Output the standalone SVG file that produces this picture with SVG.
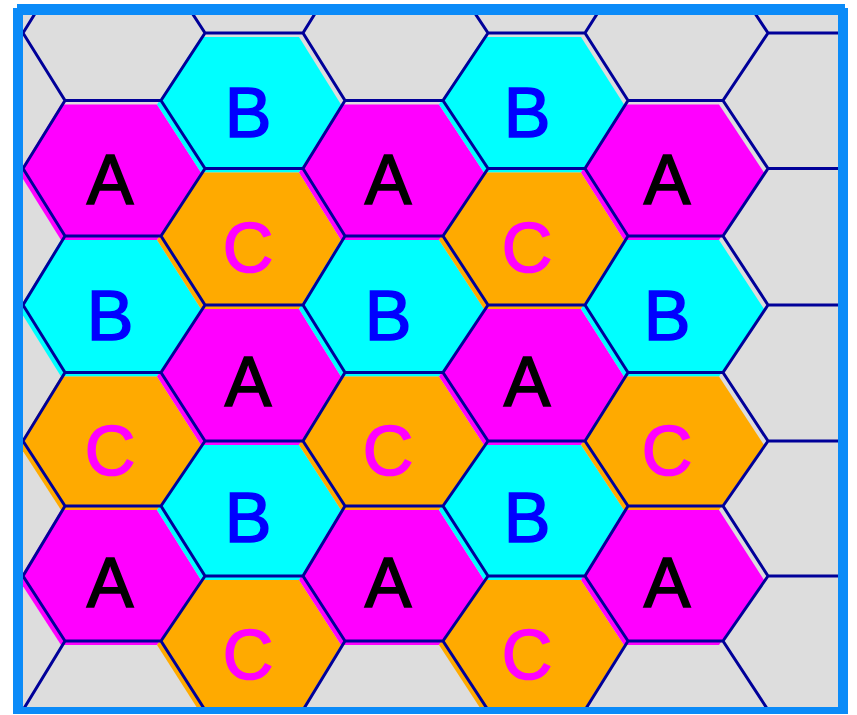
<svg xmlns="http://www.w3.org/2000/svg" width="857" height="715" viewBox="0 0 857 715">
<style>
.a{fill:#ff00ff}
.b{fill:#00ffff}
.c{fill:#ffaa00}
.lbl{font-family:"Liberation Sans",Arial,sans-serif;font-size:70px;text-anchor:middle;stroke-width:1.6px}
.ta{fill:#000000;stroke:#000000}
.tb{fill:#0000ff;stroke:#0000ff}
.tc{fill:#ff00ff;stroke:#ff00ff}
.grid{fill:none;stroke:#000099;stroke-width:3;stroke-linejoin:miter}
</style>
<defs>
<clipPath id="inner"><rect x="23" y="15" width="815" height="692"/></clipPath>
</defs>
<rect x="0" y="0" width="857" height="715" fill="#ffffff"/>
<rect x="23" y="15" width="815" height="692" fill="#dddddd"/>
<g clip-path="url(#inner)">
<g id="fills" transform="translate(-4,4)">
<polygon id="c0r1" class="a" points="23,168.5 65,100.5 161,100.5 205,168.5 161,236 65,236"/>
<polygon id="c0r2" class="b" points="23,305 65,236 161,236 205,305 161,372.5 65,372.5"/>
<polygon id="c0r3" class="c" points="23,441 65,372.5 161,372.5 205,441 161,506 65,506"/>
<polygon id="c0r4" class="a" points="23,576 65,506 161,506 205,576 161,641 65,641"/>
<polygon id="c1r1" class="b" points="161,100.5 205,33 303,33 345,100.5 303,168.5 205,168.5"/>
<polygon id="c1r2" class="c" points="161,236 205,168.5 303,168.5 345,236 303,305 205,305"/>
<polygon id="c1r3" class="a" points="161,372.5 205,305 303,305 345,372.5 303,441 205,441"/>
<polygon id="c1r4" class="b" points="161,506 205,441 303,441 345,506 303,576 205,576"/>
<polygon id="c1r5" class="c" points="161,641 205,576 303,576 345,641 303,710 205,710"/>
<polygon id="c2r1" class="a" points="303,168.5 345,100.5 443,100.5 488,168.5 443,236 345,236"/>
<polygon id="c2r2" class="b" points="303,305 345,236 443,236 488,305 443,372.5 345,372.5"/>
<polygon id="c2r3" class="c" points="303,441 345,372.5 443,372.5 488,441 443,506 345,506"/>
<polygon id="c2r4" class="a" points="303,576 345,506 443,506 488,576 443,641 345,641"/>
<polygon id="c3r1" class="b" points="443,100.5 488,33 585,33 628,100.5 585,168.5 488,168.5"/>
<polygon id="c3r2" class="c" points="443,236 488,168.5 585,168.5 628,236 585,305 488,305"/>
<polygon id="c3r3" class="a" points="443,372.5 488,305 585,305 628,372.5 585,441 488,441"/>
<polygon id="c3r4" class="b" points="443,506 488,441 585,441 628,506 585,576 488,576"/>
<polygon id="c3r5" class="c" points="443,641 488,576 585,576 628,641 585,710 488,710"/>
<polygon id="c4r1" class="a" points="585,168.5 628,100.5 723,100.5 768,168.5 723,236 628,236"/>
<polygon id="c4r2" class="b" points="585,305 628,236 723,236 768,305 723,372.5 628,372.5"/>
<polygon id="c4r3" class="c" points="585,441 628,372.5 723,372.5 768,441 723,506 628,506"/>
<polygon id="c4r4" class="a" points="585,576 628,506 723,506 768,576 723,641 628,641"/>
</g>
<g id="connectors">
<path class="grid" d="M65,-35 L23,33 L65,100.5 L23,168.5 L65,236 L23,305 L65,372.5 L23,441 L65,506 L23,576 L65,641 L23,710 L65,778
M161,-35 L205,33 L161,100.5 L205,168.5 L161,236 L205,305 L161,372.5 L205,441 L161,506 L205,576 L161,641 L205,710 L161,778
M345,-35 L303,33 L345,100.5 L303,168.5 L345,236 L303,305 L345,372.5 L303,441 L345,506 L303,576 L345,641 L303,710 L345,778
M443,-35 L488,33 L443,100.5 L488,168.5 L443,236 L488,305 L443,372.5 L488,441 L443,506 L488,576 L443,641 L488,710 L443,778
M628,-35 L585,33 L628,100.5 L585,168.5 L628,236 L585,305 L628,372.5 L585,441 L628,506 L585,576 L628,641 L585,710 L628,778
M723,-35 L768,33 L723,100.5 L768,168.5 L723,236 L768,305 L723,372.5 L768,441 L723,506 L768,576 L723,641 L768,710 L723,778
M65,100.5 H161 M65,236 H161 M65,372.5 H161 M65,506 H161 M65,641 H161
M205,33 H303 M205,168.5 H303 M205,305 H303 M205,441 H303 M205,576 H303 M205,710 H303
M345,100.5 H443 M345,236 H443 M345,372.5 H443 M345,506 H443 M345,641 H443
M488,33 H585 M488,168.5 H585 M488,305 H585 M488,441 H585 M488,576 H585 M488,710 H585
M628,100.5 H723 M628,236 H723 M628,372.5 H723 M628,506 H723 M628,641 H723
M768,33 H860 M768,168.5 H860 M768,305 H860 M768,441 H860 M768,576 H860 M768,710 H860"/>
</g>
<g id="labels">
<text class="lbl ta" x="110" y="204">A</text>
<text class="lbl tb" x="110" y="340">B</text>
<text class="lbl tc" x="110" y="475">C</text>
<text class="lbl ta" x="110" y="607">A</text>
<text class="lbl tb" x="248" y="137">B</text>
<text class="lbl tc" x="248" y="272">C</text>
<text class="lbl ta" x="248" y="406">A</text>
<text class="lbl tb" x="248" y="542">B</text>
<text class="lbl tc" x="248" y="679">C</text>
<text class="lbl ta" x="388" y="204">A</text>
<text class="lbl tb" x="388" y="340">B</text>
<text class="lbl tc" x="388" y="475">C</text>
<text class="lbl ta" x="388" y="607">A</text>
<text class="lbl tb" x="527" y="137">B</text>
<text class="lbl tc" x="527" y="272">C</text>
<text class="lbl ta" x="527" y="406">A</text>
<text class="lbl tb" x="527" y="542">B</text>
<text class="lbl tc" x="527" y="679">C</text>
<text class="lbl ta" x="667" y="204">A</text>
<text class="lbl tb" x="667" y="340">B</text>
<text class="lbl tc" x="667" y="475">C</text>
<text class="lbl ta" x="667" y="607">A</text>
</g>
</g>
<path id="frame" fill="#0b8bf8" fill-rule="evenodd" d="M17,4 H845 V8 H848 V714 H13 V8 H17 Z M23,15 V707 H838 V15 Z"/>
</svg>
